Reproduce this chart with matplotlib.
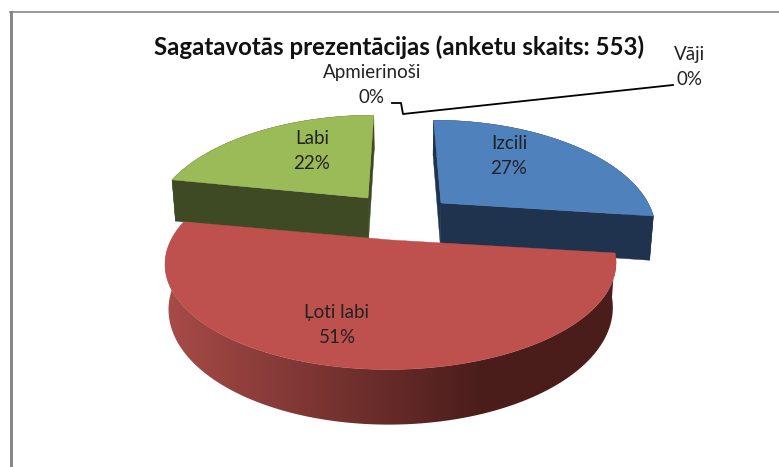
import matplotlib
matplotlib.use('Agg')
import matplotlib.pyplot as plt
from matplotlib.colors import LinearSegmentedColormap
from matplotlib.patches import Polygon
import numpy as np

title = 'Sagatavotās prezentācijas (anketu skaits: 553)'
categories = ['Izcili', 'Ļoti labi', 'Labi', 'Apmierinoši', 'Vāji']
values = [27, 51, 22, 0, 0]

top_colors = ['#4F81BD', '#BE504D', '#9BBB59']
wall_colors = ['#1F334F', None, '#3E4A23']

# pixel layout of each exploded slice: apex x, apex y, radius
apex_x = [441, 391, 368]
apex_y = [203, 240, 198]
radius = [207, 220, 209]
label_pos = [(509, 156), (337, 325), (312, 151), (372, 85), (690, 67)]

VANISH_X = 400
PERSP = 0.22
SQUASH = 101
DEPTH = 43

red_shade = LinearSegmentedColormap.from_list('red_shade', ['#A84B48', '#4A1D1B'])


def project(i, theta, r=1.0):
    x = r * np.sin(theta)
    y = -r * np.cos(theta)
    s = 1 / (1 - PERSP * y)
    px = apex_x[i] + radius[i] * x * s + (apex_x[i] - VANISH_X) * (s - 1)
    py = apex_y[i] + SQUASH * y * s
    return px, py, s


def lower(px, py, s):
    return VANISH_X + (px - VANISH_X) * 0.985, py + DEPTH * s


def draw_slice(ax, i, start, end):
    theta = np.radians(np.linspace(start, end, 160))
    px, py, s = project(i, theta)
    bx, by = lower(px, py, s)
    ax0, ay0, s0 = project(i, np.array([0.0]), 0.0)
    bx0, by0 = lower(ax0, ay0, s0)

    wall = wall_colors[i]
    if wall is not None:
        # cut faces, then the rim
        for k in [0, -1]:
            ax.fill([ax0[0], px[k], bx[k], bx0[0]], [ay0[0], py[k], by[k], by0[0]],
                    color=wall, lw=0.3, zorder=2 + i)
        ax.fill(np.r_[px, bx[::-1]], np.r_[py, by[::-1]], color=wall, lw=0.3, zorder=2 + i)
    else:
        # shaded rim, light on the left and dark from about 70% of the width
        rim = Polygon(np.c_[np.r_[px, bx[::-1]], np.r_[py, by[::-1]]], transform=ax.transData,
                      fc='none', ec='none')
        ax.add_patch(rim)
        shade = np.clip(np.linspace(0, 1.42, 256), 0, 1).reshape(1, -1)
        im = ax.imshow(shade, cmap=red_shade, vmin=0, vmax=1, aspect='auto',
                       extent=[px.min() - 1, px.max() + 1, by.max() + 2, py.min()], zorder=5)
        im.set_clip_path(rim)

    ax.fill(np.r_[ax0, px], np.r_[ay0, py], color=top_colors[i], lw=0.3, zorder=6)


plt.rcParams['font.family'] = ['Lato', 'DejaVu Sans']
fig = plt.figure(figsize=(7.79, 4.67), dpi=100)
ax = fig.add_axes([0, 0, 1, 1])
ax.axis('off')

# frame of the pasted chart
ax.fill([10, 13, 13, 10], [11, 11, 467, 467], color='#888888', lw=0)
ax.plot([10, 779], [11.5, 11.5], color='#888888', lw=1.2)

total = sum(values)
edges = np.cumsum([0] + values) / total * 360
for i in [2, 0, 1]:
    draw_slice(ax, i, edges[i], edges[i + 1])

ax.text(399, 47, title, fontsize=17.3, fontweight='bold', ha='center', va='center', color='#111111')

for name, val, (lx, ly) in zip(categories, values, label_pos):
    ax.text(lx, ly, '%s\n%d%%' % (name, val), fontsize=13.5, ha='center', va='center',
            linespacing=1.58, color='#222222', zorder=10)

# leader lines of the two empty slices
ax.plot([392, 401, 403, 673], [103, 103, 114, 85], color='black', lw=1.3, zorder=9)

ax.set_xlim(0, 779)
ax.set_ylim(467, 0)

fig.savefig('out.png', dpi=100)
